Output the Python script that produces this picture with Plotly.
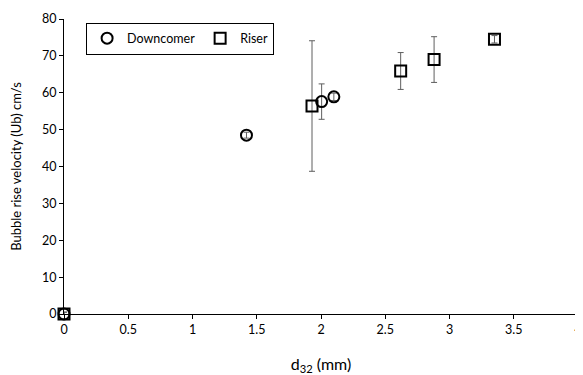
import plotly.graph_objects as go

down_x = [0, 1.42, 2.005, 2.10]
down_y = [0, 48.5, 57.6, 58.9]
down_err = [0.5, 0.8, 4.8, 1.0]

riser_x = [0, 1.93, 2.62, 2.88, 3.35]
riser_y = [0, 56.4, 65.9, 69.0, 74.5]
riser_err = [0.5, 17.7, 5.0, 6.2, 1.0]

x_ticks = [0, 0.5, 1, 1.5, 2, 2.5, 3, 3.5, 4]
y_ticks = [0, 10, 20, 30, 40, 50, 60, 70, 80]

font = "Lato, Open Sans, sans-serif"
err_col = "#5f5f5f"

fig = go.Figure()
fig.add_trace(go.Scatter(
    x=down_x, y=down_y, mode="markers", name="Downcomer",
    marker=dict(symbol="circle-open", size=11, color="black", line=dict(width=2, color="black")),
    error_y=dict(type="data", array=down_err, visible=True, color=err_col, thickness=1, width=3),
    cliponaxis=False,
))
fig.add_trace(go.Scatter(
    x=riser_x, y=riser_y, mode="markers", name="Riser",
    marker=dict(symbol="square-open", size=11, color="black", line=dict(width=2, color="black")),
    error_y=dict(type="data", array=riser_err, visible=True, color=err_col, thickness=1, width=3),
    cliponaxis=False,
))

# page body has an 8px margin, so the figure is sized 8px smaller and offset
fig.update_layout(
    width=575, height=367,
    margin=dict(l=56, r=5, t=11, b=61, autoexpand=False),
    paper_bgcolor="white", plot_bgcolor="white",
    font=dict(family=font, size=12, color="black"),
    showlegend=True,
    legend=dict(orientation="h", x=0.043, y=0.988, xanchor="left", yanchor="top",
                bordercolor="black", borderwidth=1, bgcolor="white",
                font=dict(size=12.5), itemwidth=30, tracegroupgap=0),
    xaxis=dict(range=[0, 4], tickvals=x_ticks, ticktext=[str(v) for v in x_ticks],
               showgrid=False, zeroline=False, showline=True, linecolor="black", linewidth=1,
               ticks="outside", ticklen=4, tickcolor="black", automargin=False,
               tickfont=dict(size=12.5), ticklabeloverflow="allow",
               title=dict(text="d<sub>32</sub> (mm)", font=dict(size=16), standoff=24)),
    yaxis=dict(range=[0, 80], tickvals=y_ticks,
               showgrid=False, zeroline=False, showline=True, linecolor="black", linewidth=1,
               ticks="outside", ticklen=4, tickcolor="black", automargin=False,
               tickfont=dict(size=12.5),
               title=dict(text="Bubble rise velocity (Ub) cm/s", font=dict(size=13), standoff=18)),
)

fig.write_html("out.html")
